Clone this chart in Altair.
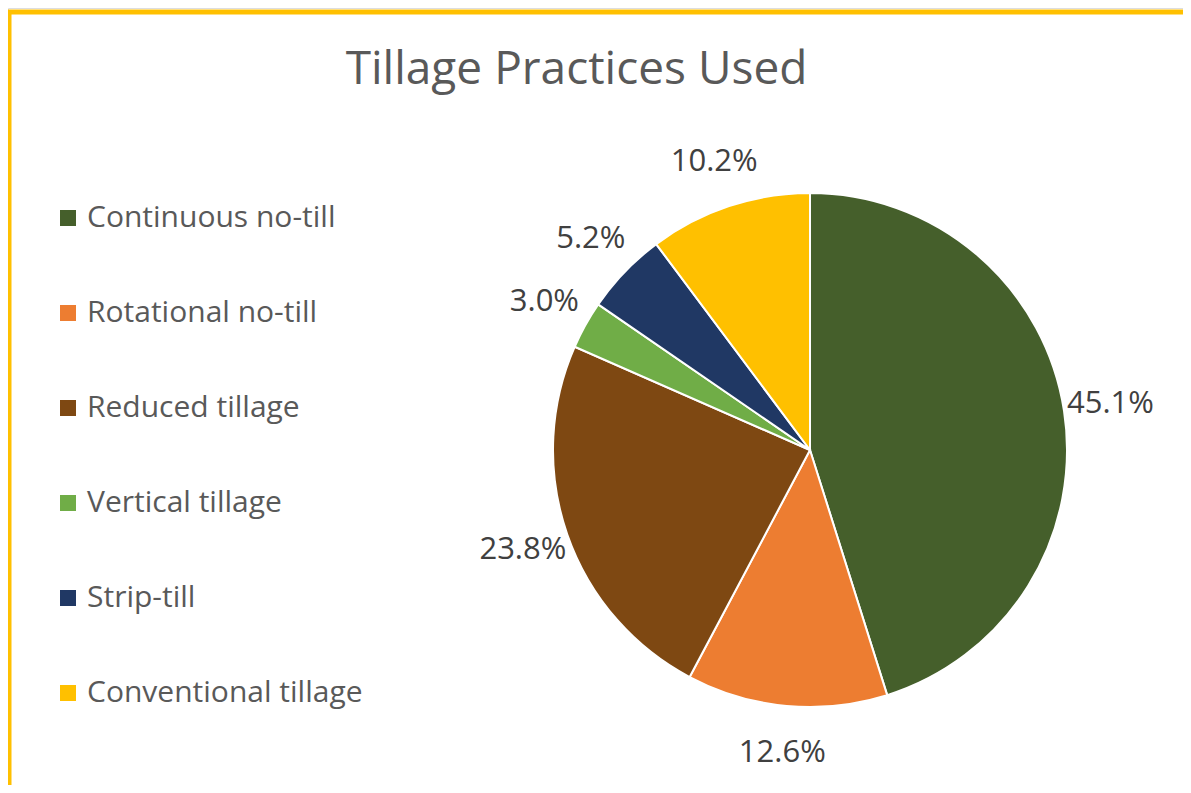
import altair as alt
import pandas as pd

categories = ["Continuous no-till", "Rotational no-till", "Reduced tillage",
              "Vertical tillage", "Strip-till", "Conventional tillage"]
shares = [45.1, 12.6, 23.8, 3.0, 5.2, 10.2]
labels = ["45.1%", "12.6%", "23.8%", "3.0%", "5.2%", "10.2%"]
colors = ["#455F2B", "#ED7D31", "#7E4812", "#70AD47", "#203864", "#FFC000"]
title_text = "Tillage Practices Used"

df = pd.DataFrame({"category": categories, "share": shares,
                   "label": labels, "idx": list(range(len(categories)))})

FONT = "Open Sans"
CX, CY = 802, 442

base = alt.Chart(df)

pie = base.mark_arc(outerRadius=257, stroke="white", strokeWidth=2, x=CX, y=CY).encode(
    theta=alt.Theta("share:Q", stack=True),
    color=alt.Color(
        "category:N",
        scale=alt.Scale(domain=categories, range=colors),
        sort=categories,
        legend=alt.Legend(
            title=None, orient="none", legendX=45, legendY=195, direction="vertical",
            symbolType="square", symbolSize=256, symbolStrokeWidth=0,
            labelFontSize=30, labelFont=FONT, labelColor="#595959", labelLimit=500,
            rowPadding=65, labelOffset=4, padding=0,
        ),
    ),
    order=alt.Order("idx:Q"),
)

text = base.mark_text(radius=304, x=CX, y=CY, fontSize=31, font=FONT, color="#404040").encode(
    theta=alt.Theta("share:Q", stack=True),
    order=alt.Order("idx:Q"),
    text="label:N",
)

frame_df = pd.DataFrame({"a": [0]})
top_border = alt.Chart(frame_df).mark_rule(color="#FFC000", strokeWidth=5).encode(
    x=alt.value(0), x2=alt.value(1175), y=alt.value(4)
)
left_border = alt.Chart(frame_df).mark_rule(color="#FFC000", strokeWidth=4).encode(
    x=alt.value(1.5), y=alt.value(2), y2=alt.value(777)
)

chart = alt.layer(top_border, left_border, pie, text).properties(
    width=1175, height=777,
    autosize=alt.AutoSizeParams(type="none"),
    padding=0,
    title=alt.Title(title_text, fontSize=46, font=FONT, color="#595959",
                    fontWeight="normal", anchor="middle", frame="group",
                    offset=0, dy=86, dx=-19),
).configure_view(stroke=None).configure(background="white")

chart.save("out.html", embed_options={"renderer": "svg", "actions": False})
